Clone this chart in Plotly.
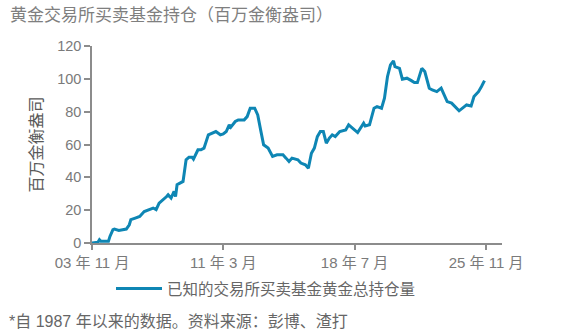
import plotly.graph_objects as go

dates = [
    "2003-11", "2004-03", "2004-04", "2004-05", "2004-10", "2004-11", "2005-01", "2005-02",
    "2005-05", "2005-10", "2005-12", "2006-01", "2006-04", "2006-07", "2006-10", "2007-02",
    "2007-04", "2007-06", "2007-08", "2008-01", "2008-02", "2008-04", "2008-06", "2008-07",
    "2008-08", "2008-12", "2009-02", "2009-04", "2009-06", "2009-07", "2009-10", "2009-12",
    "2010-02", "2010-05", "2010-07", "2010-10", "2011-01", "2011-03", "2011-05", "2011-07",
    "2011-08", "2011-11", "2012-01", "2012-05", "2012-07", "2012-09", "2012-12", "2013-02",
    "2013-04", "2013-06", "2013-09", "2013-12", "2014-03", "2014-07", "2014-09", "2014-11",
    "2015-01", "2015-05", "2015-07", "2015-10", "2015-12", "2016-01", "2016-02", "2016-04",
    "2016-06", "2016-08", "2016-10", "2016-12", "2017-02", "2017-04", "2017-06", "2017-09",
    "2018-01", "2018-03", "2018-07", "2018-09", "2019-01", "2019-02", "2019-05", "2019-08",
    "2019-10", "2020-01", "2020-03", "2020-05", "2020-07", "2020-09", "2020-10", "2021-01",
    "2021-03", "2021-06", "2021-09", "2021-11", "2022-01", "2022-04", "2022-06", "2022-09",
    "2022-11", "2023-02", "2023-05", "2023-09", "2023-12", "2024-03", "2024-05", "2024-10",
    "2025-01", "2025-03", "2025-06", "2025-08", "2025-10",
]
holdings = [
    0.0, 0.4, 2.0, 1.0, 1.0, 4.0, 8.1, 8.5,
    7.7, 8.5, 11.1, 14.2, 15.2, 16.2, 19.2, 20.7,
    21.3, 20.3, 24.3, 28.3, 29.4, 27.4, 31.4, 28.3,
    35.5, 37.5, 50.7, 52.3, 52.3, 51.1, 56.8, 56.8,
    57.8, 65.9, 66.9, 67.9, 65.9, 66.5, 67.9, 72.0,
    70.6, 74.0, 75.0, 75.0, 77.0, 82.1, 82.1, 78.0,
    68.9, 59.8, 57.8, 52.7, 53.7, 53.7, 51.7, 49.6,
    51.7, 50.7, 48.7, 47.6, 45.6, 49.6, 54.7, 57.8,
    64.8, 67.9, 67.9, 60.8, 63.9, 65.9, 64.8, 67.9,
    68.9, 72.0, 68.9, 67.3, 73.0, 71.3, 72.0, 82.1,
    83.1, 82.1, 88.2, 101.3, 108.5, 110.9, 107.4, 106.4,
    99.8, 100.4, 98.9, 97.7, 97.7, 106.4, 104.4, 94.3,
    93.2, 92.2, 94.3, 86.1, 85.2, 82.1, 80.5, 84.1,
    83.5, 89.2, 92.2, 95.3, 98.9,
]

tick_vals = ["2003-11-01", "2011-03-01", "2018-07-01", "2025-11-01"]
tick_text = ["03 年 11 月", "11 年 3 月", "18 年 7 月", "25 年 11 月"]
y_ticks = [0, 20, 40, 60, 80, 100, 120]

title_text = "黄金交易所买卖基金持仓（百万金衡盎司）"
y_title = "百万金衡盎司"
series_name = "已知的交易所买卖基金黄金总持仓量"
footnote = "*自 1987 年以来的数据。资料来源：彭博、渣打"

FONT = "Arial, 'Liberation Sans', 'Noto Sans CJK SC', sans-serif"
AXIS = "#8c8c8c"
TXT = "#7a7a7a"

W, H, L, R, T, B = 565, 335, 92, 63, 46, 92
pw, ph = W - L - R, H - T - B


def px_x(x):
    return (x - L) / pw


def px_y(y):
    return (H - B - y) / ph


fig = go.Figure()
fig.add_trace(go.Scatter(
    x=dates, y=holdings, mode="lines", name=series_name,
    line=dict(color="#0E86B4", width=3),
))

fig.update_layout(
    width=W, height=H,
    margin=dict(l=L, r=R, t=T, b=B),
    paper_bgcolor="white", plot_bgcolor="white",
    font=dict(family=FONT, color=TXT),
    showlegend=True,
    legend=dict(
        orientation="h", x=px_x(111), xanchor="left",
        y=px_y(272), yanchor="top",
        font=dict(size=15.5, color="#666666"), itemwidth=46,
        bgcolor="rgba(0,0,0,0)",
    ),
    annotations=[
        dict(text=title_text, x=px_x(8), y=px_y(15), xref="paper", yref="paper",
             xanchor="left", yanchor="middle", showarrow=False,
             font=dict(size=17, color="#7f7f7f")),
        dict(text=footnote, x=px_x(7), y=px_y(321), xref="paper", yref="paper",
             xanchor="left", yanchor="middle", showarrow=False,
             font=dict(size=16, color="#666666")),
    ],
)

fig.update_xaxes(
    type="date", range=["2003-11-01", "2026-09-23"],
    tickvals=tick_vals, ticktext=tick_text,
    showgrid=False, zeroline=False,
    showline=True, linecolor=AXIS, linewidth=1.5,
    ticks="outside", ticklen=5, tickcolor=AXIS, tickwidth=1.5,
    tickfont=dict(size=15, color=TXT),
)
fig.update_yaxes(
    range=[0, 120], tickvals=y_ticks,
    showgrid=False, zeroline=False,
    showline=True, linecolor=AXIS, linewidth=1.5,
    ticks="outside", ticklen=6, tickcolor=AXIS, tickwidth=1.5,
    tickfont=dict(size=14.5, color=TXT),
    title=dict(text=y_title, font=dict(size=16, color="#595959"), standoff=11),
)

fig.write_html("out.html")
